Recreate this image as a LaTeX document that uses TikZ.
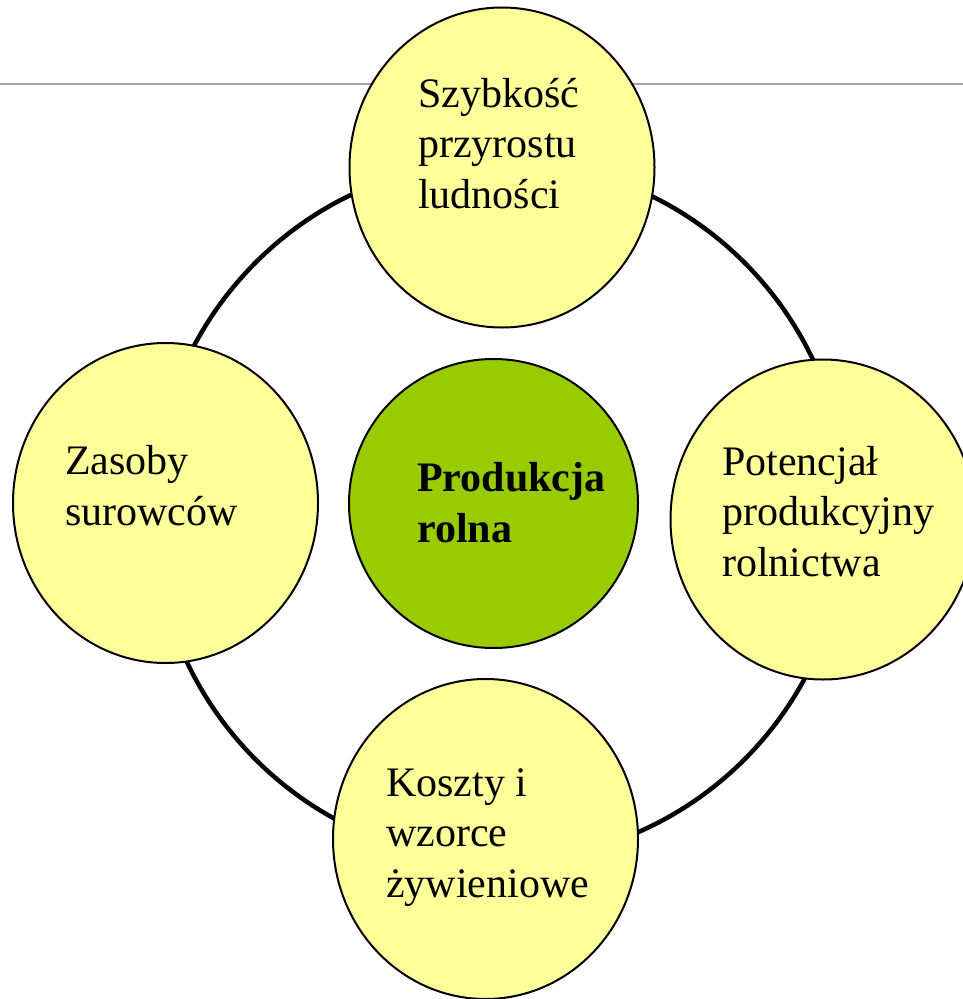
\documentclass[tikz,border=0pt]{standalone}
\usepackage{fontspec}
\setmainfont{Liberation Serif}
\usetikzlibrary{shapes.geometric}
\definecolor{paleyellow}{HTML}{FFFF99}
\definecolor{leafgreen}{HTML}{99CC00}
\definecolor{rulegray}{HTML}{A6A6A6}
\tikzstyle{factor} = [ellipse, draw=black, line width=2pt, fill=paleyellow, minimum width=305pt, minimum height=320pt, inner sep=0pt]
\tikzstyle{core} = [circle, draw=black, line width=2pt, fill=leafgreen, minimum size=289pt, inner sep=0pt]
\tikzstyle{caption} = [anchor=base west, align=left, inner sep=0pt, font=\fontsize{42}{50.5}\selectfont]

\begin{document}
\begin{tikzpicture}[x=1pt,y=-1pt]
      \useasboundingbox (0,0) rectangle (963,999);
      \clip (0,0) rectangle (963,999);
      \draw[rulegray, line width=1.5pt] (0,84) -- (963,84);
      \coordinate (hub) at (500,511);
      \draw[line width=4.5pt] (hub) ellipse [x radius=347, y radius=350];
      \node[factor] (ludnosc) at (502,167.5) {};
      \node[factor] (surowce) at (165.5,503) {};
      \node[factor] (potencjal) at (823,519.5) {};
      \node[factor] (koszty) at (485.5,839) {};
      \node[core] (produkcja) at (493.5,503.5) {};
      % base = last line
      \node[caption] (ludnosc-txt) at (418,208) {Szybkość\\przyrostu\\ludności};
      \node[caption] (surowce-txt) at (65,525) {Zasoby\\surowców};
      \node[caption] (potencjal-txt) at (722,576) {Potencjał\\produkcyjny\\rolnictwa};
      \node[caption] (koszty-txt) at (386,897) {Koszty i\\wzorce\\żywieniowe};
      \node[caption, font=\fontsize{42}{50.5}\selectfont\bfseries] (produkcja-txt) at (417,542) {Produkcja\\rolna};
\end{tikzpicture}
\end{document}
